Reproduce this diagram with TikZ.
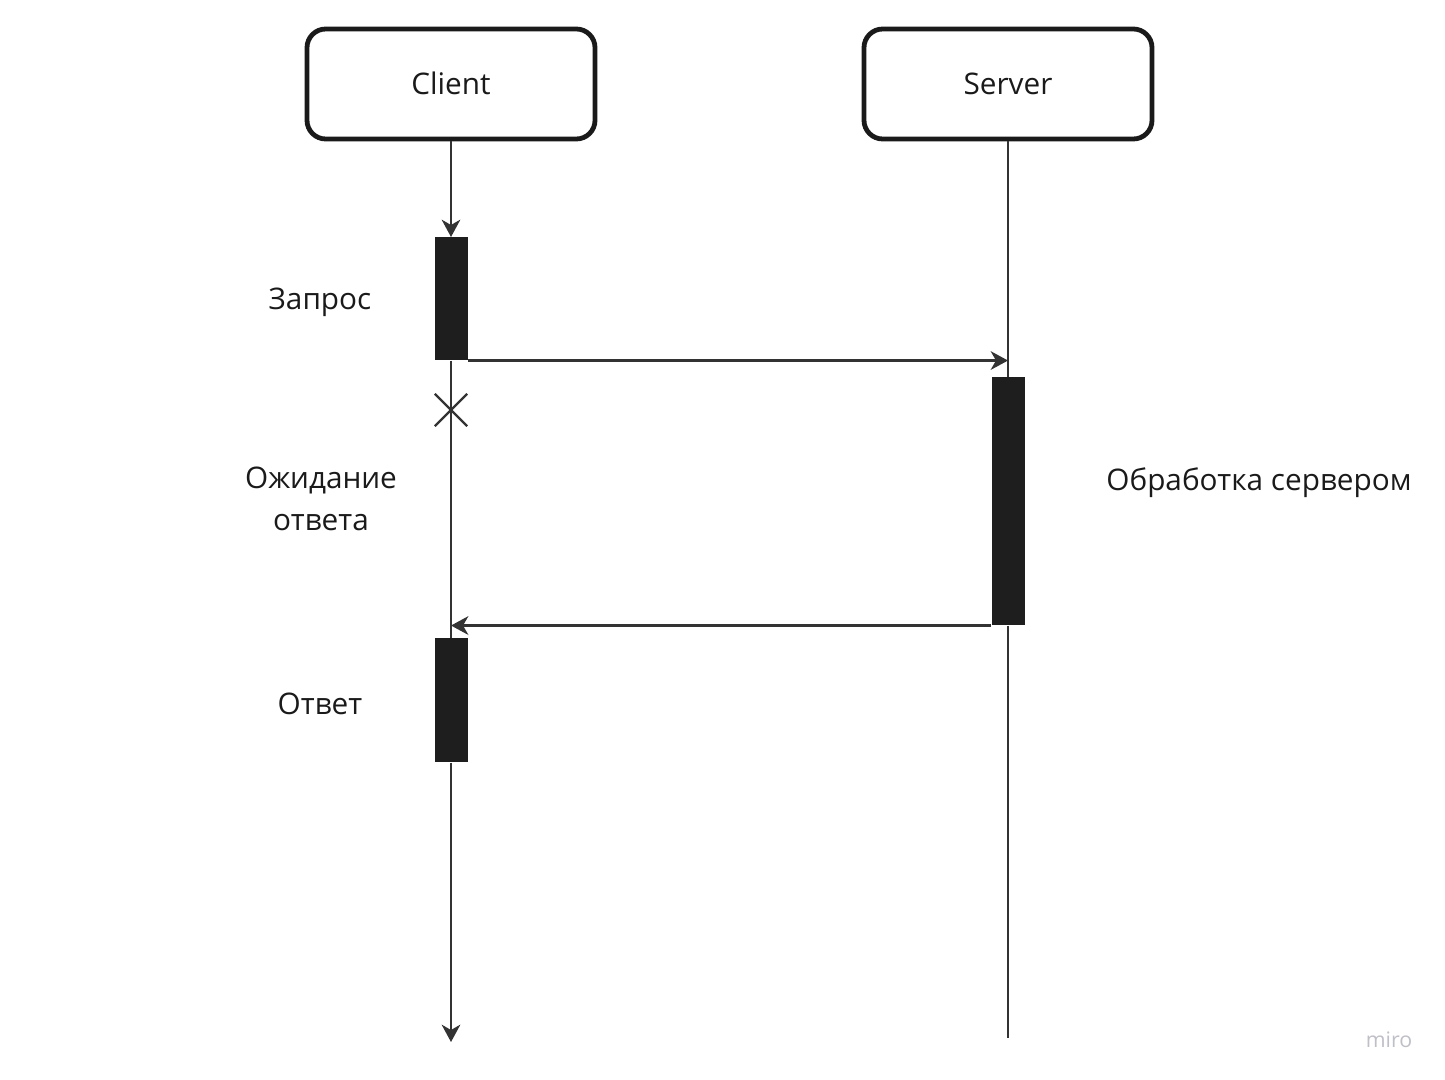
\documentclass[tikz,border=0pt]{standalone}
\usepackage{fontspec}
\setmainfont{Open Sans}
\usepackage{tikz}
\usetikzlibrary{arrows.meta,shapes.misc,positioning}
\definecolor{inkc}{HTML}{1A1A1A}
\definecolor{linec}{HTML}{333333}
\definecolor{barc}{HTML}{1E1E1E}
\definecolor{miroc}{HTML}{BFBFC8}

\begin{document}
\begin{tikzpicture}[x=0.75pt,y=-0.75pt,
  actor/.style={draw=inkc,line width=3.6pt,rounded corners=14pt,minimum width=216pt,minimum height=82.5pt,text=inkc,text height=16pt,text depth=0pt,font=\fontsize{22.3}{27}\selectfont},
  bar/.style={fill=barc,draw=none,inner sep=0pt,minimum width=24.75pt},
  lbl/.style={text=inkc,align=center,font=\fontsize{22.3}{31.5}\selectfont},
  life/.style={draw=linec,line width=1.7pt},
  msg/.style={draw=linec,line width=1.7pt,-{Stealth[length=13pt,width=14pt,inset=4pt]}}]
\useasboundingbox (0,0) rectangle (1445,1080);
%\draw[step=100,color=gray] (0,0) grid (1445,1080);
\node[actor] (client) at (451,84) {Client};
\node[actor] (server) at (1008,84) {Server};
\node[bar,anchor=north,minimum height=92.25pt] (req) at (451,237) {};
\node[bar,anchor=north,minimum height=186pt] (work) at (1008,377) {};
\node[bar,anchor=north,minimum height=93pt] (resp) at (451,638) {};
\node[draw=linec,line width=1.7pt,cross out,inner sep=0pt,minimum size=22.5pt] (wait) at (451,410) {};
\coordinate (clientend) at (451,1042);
\coordinate (serverend) at (1008,1038);
% lifelines
\draw[msg] (client.south) -- (req.north);
\draw[life] (req.south) -- (resp.north);
\draw[msg] (resp.south) -- (clientend);
\draw[life] (server.south) -- (work.north);
\draw[life] (work.south) -- (serverend);
% messages
\draw[msg] (req.south east) -- (req.south east -| server.south);
\draw[msg] (work.south west) -- (work.south west -| client.south);
% labels
\node[lbl] (reqlbl) at (320,302) {Запрос};
\node[lbl] (waitlbl) at (321,499) {Ожидание\\ответа};
\node[lbl] (resplbl) at (320,704) {Ответ};
\node[lbl] (worklbl) at (1259,483) {Обработка сервером};
\node[text=miroc,font=\fontsize{16}{18}\selectfont] (miro) at (1389,1040) {miro};
\end{tikzpicture}
\end{document}
